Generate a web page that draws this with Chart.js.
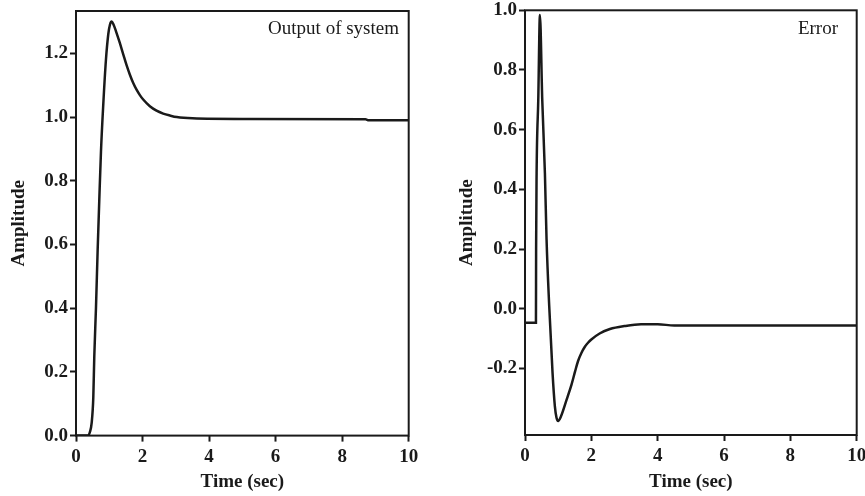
<!DOCTYPE html>
<html>
<head>
<meta charset="utf-8">
<script src="https://cdn.jsdelivr.net/npm/chart.js@4.4.0/dist/chart.umd.min.js"></script>
<style>
  html, body { margin: 0; padding: 0; background: #fff; }
  canvas { position: absolute; top: 0; }
  #outChart { left: 0; }
  #errChart { left: 440px; }
</style>
</head>
<body>
<canvas id="outChart" width="430" height="496"></canvas>
<canvas id="errChart" width="425" height="496"></canvas>
<script>
// tick labels
const timeTicks = [0, 2, 4, 6, 8, 10];
const outTicks = [0, 0.2, 0.4, 0.6, 0.8, 1.0, 1.2];
const errTicks = [-0.2, 0, 0.2, 0.4, 0.6, 0.8, 1.0];

// output of system
const outTime  = [0, 0.37, 0.42, 0.47, 0.52, 0.55, 0.60, 0.65, 0.70, 0.75, 0.82, 0.90, 0.97, 1.02, 1.07, 1.13, 1.20, 1.31, 1.42, 1.52, 1.62, 1.72, 1.82, 1.92, 2.02, 2.22, 2.42, 2.62, 2.82, 3.03, 3.50, 5.00, 8.70, 8.80, 10];
const outValue = [0, 0, 0.012, 0.039, 0.12, 0.25, 0.40, 0.58, 0.74, 0.89, 1.04, 1.18, 1.26, 1.29, 1.30, 1.29, 1.27, 1.235, 1.197, 1.163, 1.133, 1.107, 1.086, 1.069, 1.055, 1.034, 1.02, 1.011, 1.005, 1.0, 0.996, 0.994, 0.993, 0.99, 0.99];

// error
const errTime  = [0, 0.33, 0.335, 0.35, 0.40, 0.45, 0.52, 0.60, 0.65, 0.73, 0.83, 0.90, 0.95, 1.0, 1.08, 1.26, 1.40, 1.51, 1.60, 1.70, 1.80, 1.90, 2.00, 2.25, 2.56, 3.0, 3.5, 4.0, 4.5, 10];
const errValue = [-0.047, -0.047, 0.2, 0.455, 0.70, 0.984, 0.70, 0.455, 0.232, 0.009, -0.214, -0.326, -0.365, -0.376, -0.362, -0.303, -0.255, -0.21, -0.175, -0.148, -0.128, -0.114, -0.103, -0.083, -0.068, -0.058, -0.052, -0.052, -0.056, -0.056];

const ink = '#1a1a1a';
const tickFont = { family: 'Liberation Serif', size: 19, weight: 'bold' };

const framePlugin = {
    id: 'frame',
    afterDatasetsDraw(chart, args, opts) {
        const { ctx, chartArea: a } = chart;
        ctx.save();
        ctx.strokeStyle = ink;
        ctx.lineWidth = 2;
        ctx.strokeRect(a.left, a.top, a.right - a.left, a.bottom - a.top);
        ctx.font = '19px "Liberation Serif"';
        ctx.fillStyle = ink;
        ctx.textAlign = 'right';
        ctx.textBaseline = 'middle';
        ctx.fillText(opts.text, a.right - opts.dx, a.top + opts.dy);
        ctx.restore();
    }
};

function tickGrid() {
    return {
        display: true,
        drawOnChartArea: false,
        drawTicks: true,
        tickLength: 6,
        tickWidth: 2,
        tickColor: ink
    };
}

function makePanel(id, times, values, yMin, yMax, yTicks, p) {
    const points = times.map((t, i) => ({ x: t, y: values[i] }));
    return new Chart(document.getElementById(id), {
        type: 'line',
        data: {
            datasets: [{
                data: points,
                borderColor: ink,
                borderWidth: 2.5,
                pointRadius: 0,
                cubicInterpolationMode: 'monotone',
                fill: false
            }]
        },
        options: {
            responsive: false,
            animation: false,
            events: [],
            layout: { padding: { left: 0, right: p.padRight, top: p.padTop, bottom: 0 } },
            plugins: {
                legend: { display: false },
                tooltip: { enabled: false },
                frame: { text: p.label, dx: p.labelDx, dy: p.labelDy }
            },
            scales: {
                x: {
                    type: 'linear',
                    min: 0,
                    max: 10,
                    afterBuildTicks: s => { s.ticks = timeTicks.map(v => ({ value: v })); },
                    afterFit: s => { s.height = p.xHeight; s.paddingLeft = 0; s.paddingRight = 0; },
                    grid: tickGrid(),
                    border: { display: false },
                    ticks: { font: tickFont, color: ink, padding: 4, maxRotation: 0 },
                    title: {
                        display: true,
                        text: 'Time (sec)',
                        font: tickFont,
                        color: ink,
                        padding: { top: 0, bottom: 3 }
                    }
                },
                y: {
                    type: 'linear',
                    min: yMin,
                    max: yMax,
                    afterBuildTicks: s => { s.ticks = yTicks.map(v => ({ value: v })); },
                    afterFit: s => { s.width = p.yWidth; s.paddingTop = 0; s.paddingBottom = 0; },
                    grid: tickGrid(),
                    border: { display: false },
                    ticks: {
                        font: tickFont,
                        color: ink,
                        padding: 2,
                        callback: v => v.toFixed(1)
                    },
                    title: {
                        display: true,
                        text: 'Amplitude',
                        font: tickFont,
                        color: ink,
                        padding: { top: p.yTitlePad, bottom: 0 }
                    }
                }
            }
        },
        plugins: [framePlugin]
    });
}

makePanel('outChart', outTime, outValue, 0, 1.333, outTicks, {
    padRight: 21.3, padTop: 11, xHeight: 60.4, yWidth: 76, yTitlePad: 8,
    label: 'Output of system', labelDx: 9.7, labelDy: 18.3
});

makePanel('errChart', errTime, errValue, -0.423, 1.0, errTicks, {
    padRight: 8.3, padTop: 10.3, xHeight: 61, yWidth: 85, yTitlePad: 16,
    label: 'Error', labelDx: 18.7, labelDy: 18.7
});
</script>
</body>
</html>
